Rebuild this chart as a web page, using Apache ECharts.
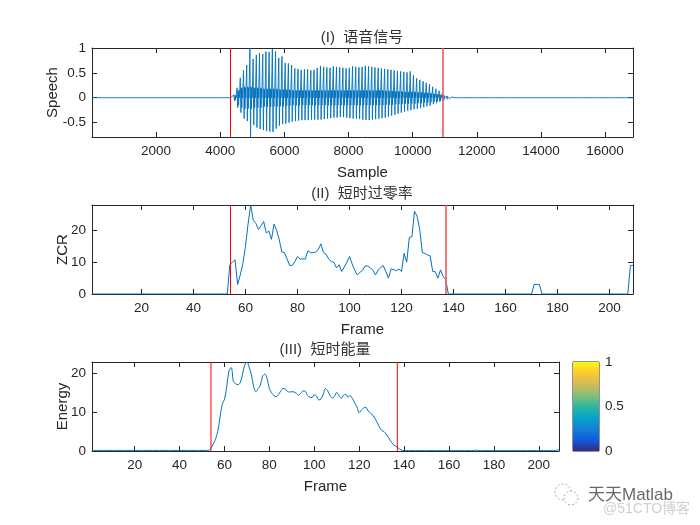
<!DOCTYPE html>
<html><head><meta charset="utf-8">
<script src="https://cdn.jsdelivr.net/npm/echarts@6/dist/echarts.min.js"></script>
<style>html,body{margin:0;padding:0;background:#fff}#c{width:700px;height:525px}</style>
</head><body><div id="c"></div>
<script>
// ---- Speech waveform: peak max / min read per 100-sample block (block i covers samples 100*i .. 100*i+99)
const speechBlockSize = 100;
const speechMax = [
0.015,0.015,0.015,0.015,0.015,0.015,0.015,0.015,0.015,0.015,
0.015,0.015,0.015,0.015,0.015,0.015,0.015,0.015,0.015,0.015,
0.015,0.015,0.015,0.015,0.015,0.015,0.015,0.015,0.015,0.015,
0.015,0.015,0.015,0.015,0.015,0.015,0.015,0.015,0.015,0.015,
0.015,0.015,0.015,
0.03,0.06,0.2,0.4,0.55,0.66,1.0,0.78,0.86,0.9,
0.88,0.93,0.92,0.98,0.93,0.8,0.83,0.7,0.69,0.66,
0.59,0.58,0.56,0.57,0.57,0.55,0.56,0.6,0.64,0.62,
0.61,0.6,0.63,0.62,0.61,0.6,0.59,0.6,0.63,0.62,
0.61,0.62,0.64,0.63,0.62,0.61,0.6,0.59,0.58,0.57,
0.56,0.55,0.54,0.53,0.52,0.51,0.53,0.45,0.39,0.36,
0.33,0.3,0.27,0.22,0.18,0.14,0.09,0.04,0.02,
0.015,0.015,0.015,0.015,0.015,0.015,0.015,0.015,0.015,0.015,
0.015,0.015,0.015,0.015,0.015,0.015,0.015,0.015,0.015,0.015,
0.015,0.015,0.015,0.015,0.015,0.015,0.015,0.015,0.015,0.015,
0.015,0.015,0.015,0.015,0.015,0.015,0.015,0.015,0.015,0.015,
0.015,0.015,0.015,0.015,0.015,0.015,0.015,0.015,0.015,0.015,
0.015,0.015,0.015,0.015,0.015,0.015,0.015
];
const speechMin = [
-0.015,-0.015,-0.015,-0.015,-0.015,-0.015,-0.015,-0.015,-0.015,-0.015,
-0.015,-0.015,-0.015,-0.015,-0.015,-0.015,-0.015,-0.015,-0.015,-0.015,
-0.015,-0.015,-0.015,-0.015,-0.015,-0.015,-0.015,-0.015,-0.015,-0.015,
-0.015,-0.015,-0.015,-0.015,-0.015,-0.015,-0.015,-0.015,-0.015,-0.015,
-0.015,-0.015,-0.015,
-0.03,-0.06,-0.2,-0.3,-0.42,-0.47,-0.79,-0.55,-0.6,-0.63,
-0.65,-0.67,-0.68,-0.69,-0.62,-0.56,-0.53,-0.52,-0.5,-0.48,
-0.47,-0.46,-0.45,-0.45,-0.45,-0.44,-0.44,-0.44,-0.44,-0.43,
-0.42,-0.41,-0.4,-0.4,-0.39,-0.39,-0.4,-0.41,-0.42,-0.42,
-0.43,-0.44,-0.45,-0.45,-0.44,-0.43,-0.42,-0.41,-0.4,-0.38,
-0.36,-0.34,-0.32,-0.3,-0.28,-0.26,-0.25,-0.23,-0.22,-0.21,
-0.19,-0.17,-0.16,-0.13,-0.11,-0.08,-0.06,-0.04,-0.02,
-0.015,-0.015,-0.015,-0.015,-0.015,-0.015,-0.015,-0.015,-0.015,-0.015,
-0.015,-0.015,-0.015,-0.015,-0.015,-0.015,-0.015,-0.015,-0.015,-0.015,
-0.015,-0.015,-0.015,-0.015,-0.015,-0.015,-0.015,-0.015,-0.015,-0.015,
-0.015,-0.015,-0.015,-0.015,-0.015,-0.015,-0.015,-0.015,-0.015,-0.015,
-0.015,-0.015,-0.015,-0.015,-0.015,-0.015,-0.015,-0.015,-0.015,-0.015,
-0.015,-0.015,-0.015,-0.015,-0.015,-0.015,-0.015
];
// amplitude of the dense inner oscillation (dark band around zero), per block, speech region only (blocks 43..111)
const speechBodyStart = 43;
const speechBody = [
0.02,0.05,0.15,0.2,0.22,0.22,0.22,0.2,0.2,0.2,
0.18,0.18,0.18,0.18,0.18,0.17,0.17,0.16,0.16,0.15,
0.15,0.15,0.15,0.15,0.15,0.15,0.15,0.15,0.15,0.15,
0.15,0.15,0.15,0.15,0.15,0.15,0.15,0.15,0.15,0.15,
0.15,0.15,0.15,0.15,0.15,0.15,0.15,0.15,0.14,0.14,
0.14,0.13,0.13,0.13,0.12,0.12,0.12,0.12,0.11,0.11,
0.1,0.1,0.09,0.08,0.07,0.06,0.05,0.03,0.01
];
const speechBounds = [4310, 10950];

// ---- Short-time zero crossing rate per frame (frames 1..209)
const zcr = [
0,0,0,0,0,0,0,0,0,0, 0,0,0,0,0,0,0,0,0,0, 0,0,0,0,0,0,0,0,0,0,
0,0,0,0,0,0,0,0,0,0, 0,0,0,0,0,0,0,0,0,0, 0,0,0,
9.2,10,10.8,3,6,9.5,15,22,28,23.2,
22.2,20.3,21.5,22.8,19.2,19.8,17.2,22,20,17,
13.2,13,11,9,9,10.2,11.8,11,11,11,
13.6,13,13,13.2,14,15.8,13,12.5,11,10.2,
10,8.2,9.2,7.1,8.5,10,11.8,9.5,7.5,6,
6.8,7.5,8.8,8.8,8.2,7.5,6,7.5,8.3,8.9,
7,5,7.9,7.7,7.3,7.9,7.1,12.8,10,17.8,
18,26,24.5,20.3,13,12.8,12.3,12,7.1,7,
5,7.6,5.5,4.5,0,
0,0,0,0,0,0,0,0,0,0, 0,0,0,0,0,0,0,0,0,0, 0,0,0,0,0,0,0,0,0,0, 0,0,
3,3,3,
0,0,0,0,0,0,0,0,0,0, 0,0,0,0,0,0,0,0,0,0, 0,0,0,0,0,0,0,0,0,0, 0,0,0,0,
9,9
];
// ---- Short-time energy per frame (frames 1..209)
const energy = [
0.15,0.15,0.15,0.15,0.15,0.15,0.15,0.15,0.15,0.15,
0.15,0.15,0.15,0.15,0.15,0.15,0.15,0.15,0.15,0.15,
0.15,0.15,0.15,0.15,0.15,0.15,0.15,0.15,0.15,0.15,
0.15,0.15,0.15,0.15,0.15,0.15,0.15,0.15,0.15,0.15,
0.15,0.15,0.15,0.15,0.15,0.15,0.15,0.15,0.15,0.15,
0.15,0.15,0.15,
0.8,1.8,3,5,8.5,12,13.2,16.5,20.5,21.4,
17.8,17.2,17,17.5,19.5,22,22.8,21.5,19.5,16.5,
15.2,16,16.8,19.2,19.7,18.5,16,14.9,14.2,13.9,
14.4,15.3,16,15.9,15.3,15.1,15.2,15.1,14.8,14.3,
14.8,15.4,15.3,14.2,13.8,13.7,14.4,14.1,13.1,13.3,
14.6,16,15.4,14.2,13.6,14,15,14.2,13.5,14.3,
14.5,13.8,14.2,13.4,12.3,11.3,9.8,10.5,11,11.2,
10.2,9.8,9.2,8.4,7.3,6.2,5.3,5,4.3,3.5,
2.6,1.8,1.3,1,0.5,0.2,
0.1,0.1,0.1,0.1,0.1,0.1,0.1,0.1,0.1,0.1,
0.1,0.1,0.1,0.1,0.1,0.1,0.1,0.1,0.1,0.1,
0.1,0.1,0.1,0.1,0.1,0.1,0.1,0.1,0.1,0.1,
0.1,0.1,0.25,0.1,0.1,0.1,0.1,0.1,0.1,0.1,
0.1,0.1,0.1,0.1,0.1,0.1,0.1,0.1,0.1,0.1,
0.1,0.1,0.1,0.1,0.1,0.1,0.1,0.1,0.1,0.1,
0.1,0.1,0.1,0.1,0.1,0.1,0.1,0.1,0.2,0.4
];
const frameBounds = [54, 137];

// ---- Axis extents and labels
const speechRange = [-0.79, 1];
const zcrRange = [0, 28];
const energyRange = [0, 22.8];
const titles = ['(I)  语音信号', '(II)  短时过零率', '(III)  短时能量'];
const colorbarTicks = [0, 0.5, 1];

// ---------------------------------------------------------------
const INK = '#262626';
const BLUE = '#0072BD';
const RED = '#ff0000';
const SANS = "'Liberation Sans', Arial, 'Noto Sans CJK SC', sans-serif";

// waveform polyline from block readings: rest, peak up, peak down, inner swing, rest
const speechData = [];
for (let i = 0; i < speechMax.length; i++) {
  const s = i * speechBlockSize;
  const b = (i >= speechBodyStart && i < speechBodyStart + speechBody.length) ? speechBody[i - speechBodyStart] : 0;
  speechData.push([s + 5, 0], [s + 25, speechMax[i]], [s + 45, speechMin[i]]);
  if (b > 0) speechData.push([s + 60, b], [s + 72, -b], [s + 84, b * 0.9]);
  speechData.push([s + 95, 0]);
}
const frameData = (arr) => arr.map((v, i) => [i + 1, v]);

function fmt(step) {
  return function (v) {
    const k = v / step;
    return Math.abs(k - Math.round(k)) < 1e-6 ? String(+v.toFixed(6)) : '';
  };
}
function xAx(grid, min, max, split, step, name, mirror) {
  return {
    type: 'value', gridIndex: grid, min: min, max: max, splitNumber: split,
    position: mirror ? 'top' : 'bottom',
    axisLine: { show: true, onZero: false, lineStyle: { color: INK, width: 1 } },
    axisTick: { show: true, inside: true, length: 5, lineStyle: { color: INK } },
    axisLabel: { show: !mirror, margin: 8, color: INK, fontFamily: SANS, fontSize: 13.5, formatter: fmt(step) },
    splitLine: { show: false },
    name: mirror ? '' : name, nameLocation: 'middle', nameGap: 28, nameMoveOverlap: false,
    nameTextStyle: { color: INK, fontFamily: SANS, fontSize: 15 }
  };
}
function yAx(grid, range, split, step, name, gap, mirror) {
  return {
    type: 'value', gridIndex: grid, min: range[0], max: range[1], splitNumber: split,
    position: mirror ? 'right' : 'left',
    axisLine: { show: true, onZero: false, lineStyle: { color: INK, width: 1 } },
    axisTick: { show: true, inside: true, length: 5, lineStyle: { color: INK } },
    axisLabel: { show: !mirror, margin: 6, color: INK, fontFamily: SANS, fontSize: 13.5, formatter: fmt(step) },
    splitLine: { show: false },
    name: mirror ? '' : name, nameLocation: 'middle', nameGap: gap, nameRotate: 90, nameMoveOverlap: false,
    nameTextStyle: { color: INK, fontFamily: SANS, fontSize: 15 }
  };
}
function bounds(vals) {
  return {
    symbol: ['none', 'none'], silent: true, animation: false,
    label: { show: false },
    lineStyle: { color: RED, width: 1, type: 'solid', opacity: 1 },
    data: vals.map((v, i) => ({
      xAxis: v,
      lineStyle: i === 1
        ? { color: '#f25a5a', width: 1.6, type: 'solid', opacity: 1 }
        : { color: RED, width: 1, type: 'solid', opacity: 1 }
    }))
  };
}
// vertical boundary line drawn as a two-point line series spanning the axis range
function boundSeries(xi, yi, v, range) {
  return {
    type: 'line', xAxisIndex: xi, yAxisIndex: yi, data: [[v, range[0]], [v, range[1]]],
    showSymbol: false, symbol: 'none', silent: true, z: 5,
    itemStyle: { color: RED }, lineStyle: { color: RED, width: 1 }
  };
}

const option = {
  animation: false,
  backgroundColor: '#ffffff',
  grid: [
    { left: 92, top: 48, width: 541, height: 89, outerBoundsMode: 'none', containLabel: false },
    { left: 92, top: 205, width: 541, height: 89, outerBoundsMode: 'none', containLabel: false },
    { left: 92, top: 362, width: 467, height: 89, outerBoundsMode: 'none', containLabel: false },
    { left: 573, top: 362, width: 26, height: 89, outerBoundsMode: 'none', containLabel: false,
      show: true, borderColor: INK, borderWidth: 1, backgroundColor: 'transparent' }
  ],
  xAxis: [
    xAx(0, 1, 16870, 8, 2000, 'Sample', false),
    xAx(0, 1, 16870, 8, 2000, '', true),
    xAx(1, 1, 209, 10, 20, 'Frame', false),
    xAx(1, 1, 209, 10, 20, '', true),
    xAx(2, 1, 209, 10, 20, 'Frame', false),
    xAx(2, 1, 209, 10, 20, '', true),
    { type: 'category', gridIndex: 3, data: ['cb'], show: false, boundaryGap: true }
  ],
  yAxis: [
    yAx(0, speechRange, 4, 0.5, 'Speech', 32, false),
    yAx(0, speechRange, 4, 0.5, '', 0, true),
    yAx(1, zcrRange, 3, 10, 'ZCR', 22, false),
    yAx(1, zcrRange, 3, 10, '', 0, true),
    yAx(2, energyRange, 2, 10, 'Energy', 22, false),
    yAx(2, energyRange, 2, 10, '', 0, true),
    {
      type: 'value', gridIndex: 3, min: colorbarTicks[0], max: colorbarTicks[2], interval: colorbarTicks[1],
      position: 'right',
      axisLine: { show: false }, axisTick: { show: false }, splitLine: { show: false },
      axisLabel: { show: true, margin: 6, color: INK, fontFamily: SANS, fontSize: 13.5 }
    }
  ],
  series: [
    {
      type: 'line', xAxisIndex: 0, yAxisIndex: 0, data: speechData,
      showSymbol: false, symbol: 'none', sampling: 'none', silent: true,
      lineStyle: { color: BLUE, width: 0.9 }, clip: true,
      markLine: bounds(speechBounds)
    },
    {
      type: 'line', xAxisIndex: 2, yAxisIndex: 2, data: frameData(zcr),
      showSymbol: false, symbol: 'none', silent: true,
      lineStyle: { color: BLUE, width: 1 }, clip: true,
      markLine: bounds(frameBounds)
    },
    {
      type: 'line', xAxisIndex: 4, yAxisIndex: 4, data: frameData(energy),
      showSymbol: false, symbol: 'none', silent: true, smooth: 0.35,
      lineStyle: { color: BLUE, width: 1 }, clip: true, z: 3
    },
    boundSeries(4, 4, frameBounds[0], energyRange),
    boundSeries(4, 4, frameBounds[1], energyRange),
    {
      type: 'bar', xAxisIndex: 6, yAxisIndex: 6, data: [colorbarTicks[2]],
      barWidth: '100%', silent: true,
      itemStyle: {
        color: new echarts.graphic.LinearGradient(0, 1, 0, 0, [
          { offset: 0.0, color: '#352a87' },
          { offset: 0.125, color: '#0f5cdd' },
          { offset: 0.25, color: '#1481d6' },
          { offset: 0.375, color: '#06a4ca' },
          { offset: 0.5, color: '#2eb7a4' },
          { offset: 0.625, color: '#87bf77' },
          { offset: 0.75, color: '#d1bb59' },
          { offset: 0.875, color: '#fec832' },
          { offset: 1.0, color: '#f9fb0e' }
        ])
      }
    }
  ],
  graphic: [
    { type: 'text', x: 362, y: 38, style: { text: titles[0], fill: '#333', font: "15px 'Liberation Sans','Noto Sans CJK SC',sans-serif", align: 'center', verticalAlign: 'middle' } },
    { type: 'text', x: 362, y: 194, style: { text: titles[1], fill: '#333', font: "15px 'Liberation Sans','Noto Sans CJK SC',sans-serif", align: 'center', verticalAlign: 'middle' } },
    { type: 'text', x: 325, y: 350, style: { text: titles[2], fill: '#333', font: "15px 'Liberation Sans','Noto Sans CJK SC',sans-serif", align: 'center', verticalAlign: 'middle' } },
    { type: 'circle', shape: { cx: 563, cy: 492, r: 8 }, style: { fill: 'none', stroke: '#aaa', lineWidth: 1, lineDash: [2, 2] } },
    { type: 'circle', shape: { cx: 571, cy: 498, r: 7 }, style: { fill: '#fff', stroke: '#aaa', lineWidth: 1, lineDash: [2, 2] } },
    { type: 'text', x: 588, y: 495, style: { text: '天天Matlab', fill: '#6a6a6a', font: "17px 'Liberation Sans','Noto Sans CJK SC',sans-serif", align: 'left', verticalAlign: 'middle' } },
    { type: 'text', x: 603, y: 509, style: { text: '@51CTO博客', fill: '#cfcfcf', font: "14px 'Liberation Sans','Noto Sans CJK SC',sans-serif", align: 'left', verticalAlign: 'middle' } }
  ]
};
const chart = echarts.init(document.getElementById('c'), null, { renderer: 'canvas' });
chart.setOption(option);
</script></body></html>
